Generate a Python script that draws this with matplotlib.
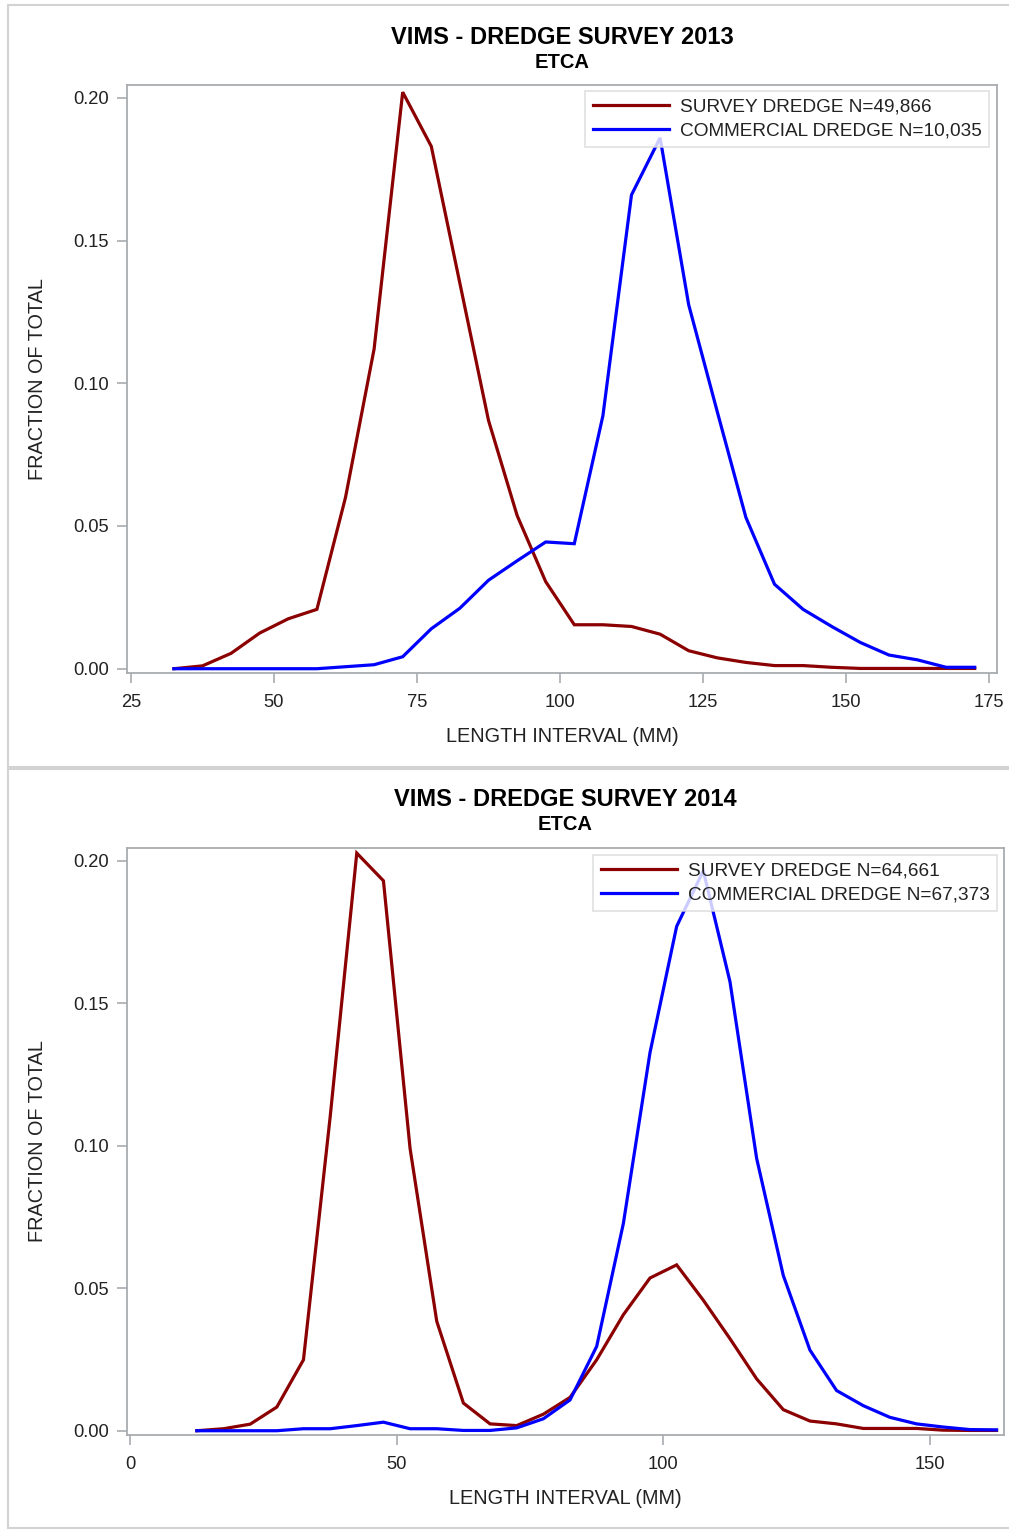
import matplotlib
matplotlib.use("Agg")
import matplotlib.pyplot as plt
from matplotlib import font_manager
from matplotlib.lines import Line2D

# ---- data: length-frequency fractions by 5 mm interval ----
lengths_2013 = [32.5, 37.5, 42.5, 47.5, 52.5, 57.5, 62.5, 67.5, 72.5, 77.5,
                82.5, 87.5, 92.5, 97.5, 102.5, 107.5, 112.5, 117.5, 122.5, 127.5,
                132.5, 137.5, 142.5, 147.5, 152.5, 157.5, 162.5, 167.5, 172.5]
survey_2013 = [0.000, 0.001, 0.0054, 0.0125, 0.0175, 0.0208, 0.060, 0.112, 0.202, 0.183,
               0.135, 0.087, 0.0537, 0.0305, 0.0154, 0.0154, 0.0148, 0.0121, 0.0063, 0.0038,
               0.0022, 0.0011, 0.0011, 0.0005, 0.0001, 0.0001, 0.0001, 0.0001, 0.0001]
commercial_2013 = [0.000, 0.000, 0.000, 0.000, 0.000, 0.000, 0.0007, 0.0014, 0.0042, 0.014,
                   0.0212, 0.031, 0.0378, 0.0444, 0.0438, 0.0886, 0.166, 0.186, 0.1275, 0.090,
                   0.053, 0.0296, 0.0208, 0.0148, 0.0092, 0.0048, 0.0031, 0.0005, 0.0005]

lengths_2014 = [12.5, 17.5, 22.5, 27.5, 32.5, 37.5, 42.5, 47.5, 52.5, 57.5,
                62.5, 67.5, 72.5, 77.5, 82.5, 87.5, 92.5, 97.5, 102.5, 107.5,
                112.5, 117.5, 122.5, 127.5, 132.5, 137.5, 142.5, 147.5, 152.5, 157.5, 162.5]
survey_2014 = [0.000, 0.0007, 0.0023, 0.0083, 0.0249, 0.110, 0.2027, 0.193, 0.099, 0.0384,
               0.0097, 0.0024, 0.0018, 0.0058, 0.0117, 0.0249, 0.0407, 0.0536, 0.0582, 0.0458,
               0.0323, 0.0182, 0.0074, 0.0034, 0.0024, 0.0008, 0.0008, 0.0008, 0.0002, 0.0001, 0.0001]
commercial_2014 = [0.000, 0.000, 0.000, 0.000, 0.0007, 0.0007, 0.0018, 0.0030, 0.0007, 0.0007,
                   0.0001, 0.0001, 0.0010, 0.0042, 0.0108, 0.0296, 0.0727, 0.1327, 0.177, 0.1965,
                   0.1576, 0.0956, 0.0545, 0.0283, 0.0141, 0.0088, 0.0047, 0.0024, 0.0013, 0.0004, 0.0003]

panels = [
    dict(title="VIMS - DREDGE SURVEY 2013", subtitle="ETCA",
         x=lengths_2013, survey=survey_2013, commercial=commercial_2013,
         survey_label="SURVEY DREDGE N=49,866", commercial_label="COMMERCIAL DREDGE N=10,035",
         xticks=[25, 50, 75, 100, 125, 150, 175], xlim=(24.3, 176.4)),
    dict(title="VIMS - DREDGE SURVEY 2014", subtitle="ETCA",
         x=lengths_2014, survey=survey_2014, commercial=commercial_2014,
         survey_label="SURVEY DREDGE N=64,661", commercial_label="COMMERCIAL DREDGE N=67,373",
         xticks=[0, 50, 100, 150], xlim=(-0.6, 163.9)),
]
yticks = [0.00, 0.05, 0.10, 0.15, 0.20]

# ---- fonts ----
available = {f.name for f in font_manager.fontManager.ttflist}
body_font = "Liberation Sans" if "Liberation Sans" in available else "DejaVu Sans"
plt.rcParams["font.family"] = [body_font, "DejaVu Sans"]

W, H = 1009, 1530
fig = plt.figure(figsize=(W / 100, H / 100), dpi=100)
fig.patch.set_facecolor("white")

def fx(px):
    return px / W

def fy(py):
    return 1 - py / H

RED = "#8B0000"
BLUE = "#0000FF"
FRAME = "#A8ACB0"
BORDER = "#D3D3D3"

# panel outlines
for top, bottom in [(5, 767), (769, 1528)]:
    for xs, ys in [((8, 1012), (top, top)), ((8, 1012), (bottom, bottom)), ((8, 8), (top, bottom))]:
        fig.add_artist(Line2D([fx(xs[0]), fx(xs[1])], [fy(ys[0]), fy(ys[1])],
                              color=BORDER, lw=1.5, transform=fig.transFigure))

# axes boxes (pixel extents) and legend top-right corners
boxes = [(127, 997, 85, 673), (127, 1004, 848, 1435)]
legend_corner = [(989, 91), (997, 855)]
title_y = [(37, 63), (799, 825)]

for p, (l, r, t, b), (lx, ly), (ty1, ty2) in zip(panels, boxes, legend_corner, title_y):
    ax = fig.add_axes([fx(l), fy(b), fx(r - l), (b - t) / H])
    ax.plot(p["x"], p["survey"], color=RED, lw=2.3, label=p["survey_label"],
            solid_joinstyle="miter")
    ax.plot(p["x"], p["commercial"], color=BLUE, lw=2.3, label=p["commercial_label"],
            solid_joinstyle="miter")
    ax.set_xlim(*p["xlim"])
    ax.set_ylim(-0.0015, 0.2045)
    ax.set_xticks(p["xticks"])
    ax.set_yticks(yticks)
    ax.set_yticklabels([f"{v:.2f}" for v in yticks])
    for s in ax.spines.values():
        s.set_color(FRAME)
        s.set_linewidth(1.3)
    ax.tick_params(axis="both", colors=FRAME, labelcolor="#222222", labelsize=13.2,
                   length=7, width=1.2)
    ax.tick_params(axis="x", pad=8)
    ax.tick_params(axis="y", pad=6)
    ax.set_xlabel("LENGTH INTERVAL (MM)", fontsize=14.3, color="#222222", labelpad=12)
    ax.set_ylabel("FRACTION OF TOTAL", fontsize=14.3, color="#222222", labelpad=19)
    leg = ax.legend(loc="upper right",
                    bbox_to_anchor=(fx(lx), fy(ly)), bbox_transform=fig.transFigure,
                    fontsize=13.7, frameon=True, fancybox=False, handlelength=4.0,
                    handletextpad=0.55, borderpad=0.4, labelspacing=0.33, borderaxespad=0)
    leg.get_frame().set_edgecolor("#D8D8D8")
    leg.get_frame().set_linewidth(1.2)
    for txt in leg.get_texts():
        txt.set_color("#222222")
    cx = fx((l + r) / 2)
    fig.text(cx, fy(ty1), p["title"], ha="center", va="center", fontsize=17,
             fontweight="bold")
    fig.text(cx, fy(ty2), p["subtitle"], ha="center", va="center", fontsize=14.5,
             fontweight="bold")

fig.savefig("out.png", dpi=100)
